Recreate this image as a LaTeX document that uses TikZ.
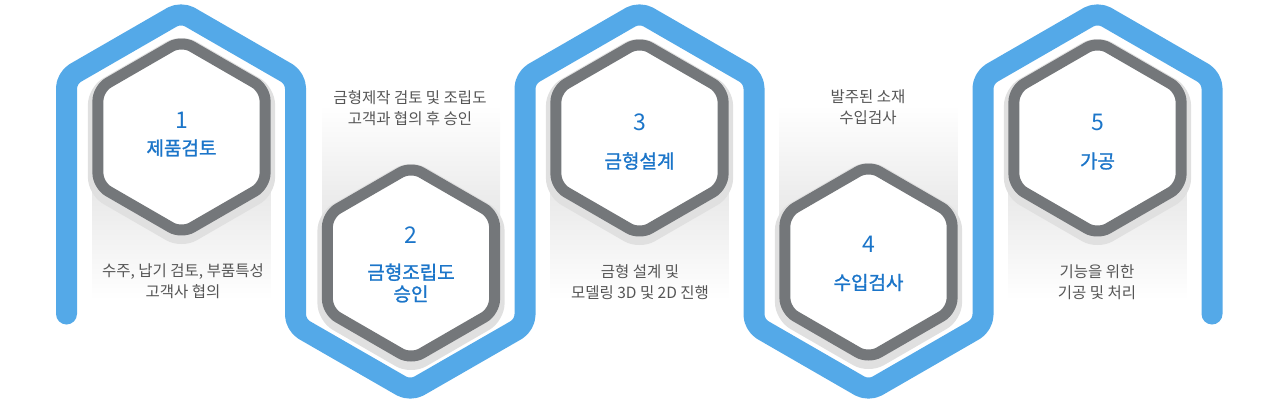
\documentclass[tikz,border=0pt]{standalone}
\usepackage{fontspec}
\setmainfont{Noto Sans CJK KR}
\newfontfamily\krsemi[FakeBold=1.3]{Noto Sans CJK KR}
\usetikzlibrary{shapes.geometric}
\definecolor{lineablue}{RGB}{84,169,232}
\definecolor{numblue}{RGB}{27,117,201}
\definecolor{anillo}{RGB}{116,119,122}
\definecolor{textogris}{RGB}{85,85,85}
\definecolor{panelgris}{RGB}{222,222,222}

\begin{document}
\begin{tikzpicture}[x=1pt,y=-1pt,
  hexa/.style={regular polygon,regular polygon sides=6,shape border rotate=30,minimum size=193pt,inner sep=0pt,
    fill=white,draw=anillo,line width=11pt,rounded corners=12pt,
    preaction={draw=black!12,line width=20pt,transform canvas={yshift=-4pt}}},
  numero/.style={text=numblue,font=\fontsize{23}{23}\selectfont,inner sep=0pt},
  titulo/.style={text=numblue,font=\krsemi\fontsize{19}{21.5}\selectfont,inner sep=0pt,align=center},
  desc/.style={text=textogris,font=\fontsize{15.5}{21}\selectfont,inner sep=0pt,align=center}]
      \useasboundingbox (0,0) rectangle (1280,405);
      % Paneles
      \shade[top color=panelgris,bottom color=white] (92.5,140) rectangle (270.5,300);
      \shade[top color=white,bottom color=panelgris] (322,105) rectangle (500,265);
      \shade[top color=panelgris,bottom color=white] (550.5,140) rectangle (728.5,300);
      \shade[top color=white,bottom color=panelgris] (779.5,105) rectangle (957.5,265);
      \shade[top color=panelgris,bottom color=white] (1008.5,140) rectangle (1186.5,300);
      % Linea azul
      \draw[lineablue,line width=21pt,line cap=round,line join=round,rounded corners=10pt]
        (66.5,314) -- (66.5,78) -- (181,12) -- (295.5,78) -- (295.5,325) -- (410.25,391)
        -- (525,325) -- (525,78) -- (639.5,12) -- (754,78) -- (754,325) -- (868.5,391)
        -- (983,325) -- (983,78) -- (1097.5,12) -- (1212,78) -- (1212,314);
      % Hexagonos
      \node[hexa] (h1) at (181.5,137) {};
      \node[hexa] (h2) at (411,263) {};
      \node[hexa] (h3) at (639.5,138) {};
      \node[hexa] (h4) at (868.5,262) {};
      \node[hexa] (h5) at (1097.5,138) {};
      % Textos
      \node[numero] (n1) at (181.5,120) {1};
      \node[titulo] (t1) at (181.5,148) {제품검토};
      \node[numero] (n2) at (411,235) {2};
      \node[titulo] (t2) at (411,283) {금형조립도\\승인};
      \node[numero] (n3) at (639.5,122) {3};
      \node[titulo] (t3) at (639.5,161) {금형설계};
      \node[numero] (n4) at (868.5,244) {4};
      \node[titulo] (t4) at (868.5,282.5) {수입검사};
      \node[numero] (n5) at (1097.5,122) {5};
      \node[titulo] (t5) at (1097.5,161) {가공};
      % Descripciones
      \node[desc] (d1) at (183,281) {수주, 납기 검토, 부품특성\\고객사 협의};
      \node[desc] (d2) at (410,108.5) {금형제작 검토 및 조립도\\고객과 협의 후 승인};
      \node[desc] (d3) at (640,282.5) {금형 설계 및\\모델링 3D 및 2D 진행};
      \node[desc] (d4) at (868,107.5) {발주된 소재\\수입검사};
      \node[desc] (d5) at (1097,282.5) {기능을 위한\\기공 및 처리};
    \end{tikzpicture}
\end{document}
